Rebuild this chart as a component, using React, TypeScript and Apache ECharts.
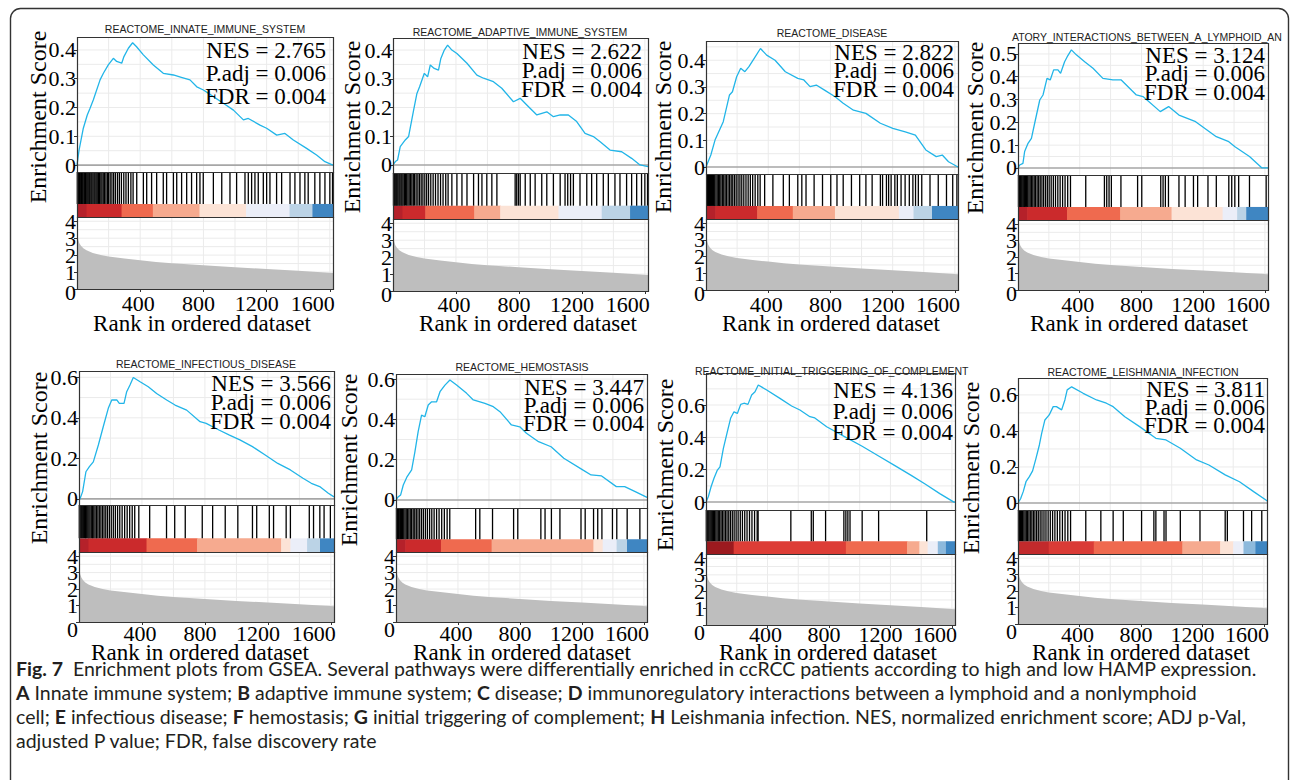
import { useEffect, useRef } from "react";
import * as echarts from "echarts";

// ---------------- data ----------------
const RANK_MAX = 1620;
const xTickValues = [400, 800, 1200, 1600];
const gridRanks = [200, 400, 600, 800, 1000, 1200, 1400, 1600];
const metricTicksEven = [0, 2, 4];
const metricTicksOdd = [1, 3];
const metricGrid = [0.5, 1, 1.5, 2, 2.5, 3, 3.5, 4];
const esTicks4 = [0, 0.1, 0.2, 0.3, 0.4];
const esTicks5 = [0, 0.1, 0.2, 0.3, 0.4, 0.5];
const esTicks6 = [0, 0.2, 0.4, 0.6];

const titles = [
  "REACTOME_INNATE_IMMUNE_SYSTEM",
  "REACTOME_ADAPTIVE_IMMUNE_SYSTEM",
  "REACTOME_DISEASE",
  "ATORY_INTERACTIONS_BETWEEN_A_LYMPHOID_AN",
  "REACTOME_INFECTIOUS_DISEASE",
  "REACTOME_HEMOSTASIS",
  "REACTOME_INITIAL_TRIGGERING_OF_COMPLEMENT",
  "REACTOME_LEISHMANIA_INFECTION",
];
const nesValues = ["2.765", "2.622", "2.822", "3.124", "3.566", "3.447", "4.136", "3.811"];
const padjValues = ["0.006", "0.006", "0.006", "0.006", "0.006", "0.006", "0.006", "0.006"];
const fdrValues = ["0.004", "0.004", "0.004", "0.004", "0.004", "0.004", "0.004", "0.004"];

// ranked list metric (shared by all panels)
const rankedMetric = [
  [0, 3.6], [3, 3.2], [8, 2.9], [15, 2.7], [25, 2.55], [40, 2.4], [60, 2.28], [100, 2.12],
  [150, 2.0], [200, 1.92], [300, 1.8], [400, 1.7], [500, 1.6], [600, 1.52], [800, 1.4],
  [1000, 1.28], [1200, 1.18], [1400, 1.08], [1620, 0.95],
];

// running enrichment scores
const esInnate = [[0,0],[13,0.052],[40,0.128],[65,0.174],[82,0.197],[103,0.226],[146,0.296],[167,0.319],[198,0.348],[230,0.371],[251,0.36],[283,0.354],[297,0.377],[325,0.406],[352,0.425],[377,0.411],[420,0.383],[483,0.348],[546,0.319],[610,0.313],[660,0.305],[715,0.296],[758,0.272],[800,0.261],[863,0.238],[926,0.215],[990,0.191],[1053,0.157],[1084,0.162],[1158,0.139],[1200,0.128],[1264,0.104],[1316,0.110],[1369,0.087],[1453,0.058],[1516,0.035],[1569,0.012],[1620,0]];
const esAdaptive = [[0,0],[15,0.012],[29,0.017],[46,0.064],[78,0.087],[99,0.099],[131,0.191],[152,0.249],[169,0.272],[199,0.319],[220,0.307],[237,0.348],[262,0.336],[289,0.330],[304,0.371],[326,0.4],[347,0.417],[374,0.4],[406,0.388],[470,0.354],[533,0.313],[575,0.302],[638,0.290],[691,0.267],[765,0.220],[808,0.232],[850,0.209],[914,0.174],[977,0.185],[1019,0.168],[1062,0.174],[1114,0.174],[1167,0.151],[1220,0.110],[1273,0.099],[1316,0.081],[1379,0.052],[1453,0.046],[1516,0.023],[1569,0],[1620,-0.006]];
const esDisease = [[0,0],[31,0.045],[58,0.101],[111,0.170],[151,0.270],[170,0.282],[197,0.338],[223,0.37],[250,0.357],[276,0.376],[310,0.407],[350,0.444],[390,0.419],[444,0.40],[510,0.357],[590,0.332],[629,0.326],[669,0.301],[709,0.307],[762,0.288],[830,0.263],[882,0.239],[948,0.213],[1028,0.201],[1121,0.164],[1201,0.145],[1281,0.132],[1346,0.120],[1413,0.064],[1480,0.039],[1519,0.045],[1559,0.02],[1620,0]];
const esLymphoid = [[0,0],[11,0.013],[32,0.02],[43,0.072],[65,0.108],[87,0.130],[108,0.196],[141,0.298],[162,0.32],[188,0.393],[209,0.386],[231,0.430],[259,0.430],[276,0.415],[302,0.466],[319,0.488],[346,0.518],[378,0.496],[432,0.466],[486,0.437],[550,0.393],[615,0.386],[669,0.386],[767,0.32],[810,0.313],[922,0.247],[976,0.269],[1043,0.232],[1151,0.203],[1285,0.137],[1366,0.115],[1406,0.093],[1500,0.050],[1581,0],[1620,0]];
const esInfectious = [[0,0],[6,0],[23,0.036],[44,0.134],[66,0.159],[91,0.183],[123,0.266],[154,0.356],[186,0.447],[208,0.488],[240,0.488],[256,0.471],[286,0.471],[303,0.529],[324,0.562],[345,0.599],[388,0.578],[440,0.553],[493,0.520],[557,0.488],[610,0.463],[684,0.438],[769,0.381],[808,0.373],[889,0.340],[956,0.315],[1022,0.291],[1102,0.258],[1183,0.217],[1263,0.175],[1343,0.143],[1423,0.102],[1476,0.077],[1529,0.061],[1584,0.028],[1620,0.01]];
const esHemostasis = [[0,0],[15,0.016],[30,0.025],[47,0.074],[72,0.116],[101,0.149],[122,0.239],[143,0.339],[165,0.421],[186,0.413],[208,0.471],[230,0.487],[262,0.487],[284,0.537],[316,0.570],[348,0.595],[391,0.570],[456,0.529],[499,0.496],[542,0.487],[574,0.479],[628,0.463],[671,0.438],[745,0.372],[799,0.363],[842,0.331],[920,0.289],[1001,0.264],[1083,0.207],[1205,0.149],[1259,0.124],[1327,0.119],[1422,0.066],[1476,0.066],[1544,0.041],[1620,0.013]];
const esComplement = [[0,0],[15,0.033],[33,0.095],[52,0.147],[74,0.198],[91,0.218],[113,0.332],[139,0.435],[160,0.518],[182,0.558],[204,0.548],[226,0.604],[247,0.611],[273,0.604],[297,0.662],[319,0.682],[340,0.724],[395,0.693],[481,0.641],[557,0.594],[611,0.569],[676,0.528],[708,0.52],[785,0.466],[910,0.40],[1016,0.345],[1123,0.285],[1229,0.225],[1335,0.165],[1428,0.11],[1521,0.052],[1613,0],[1620,0]];
const esLeishmania = [[0,0],[18,0.026],[34,0.063],[52,0.118],[74,0.146],[95,0.178],[117,0.248],[139,0.322],[154,0.387],[175,0.461],[203,0.489],[229,0.535],[250,0.535],[284,0.517],[305,0.572],[320,0.628],[349,0.645],[424,0.609],[511,0.572],[575,0.554],[619,0.535],[695,0.479],[791,0.424],[897,0.359],[963,0.35],[1056,0.304],[1162,0.239],[1242,0.211],[1348,0.156],[1441,0.118],[1533,0.063],[1613,0.017],[1620,0.01]];

// gene-set hit positions (ranks)
const hitsInnate = [2,6,11,15,19,24,29,33,38,44,49,53,58,64,70,76,81,88,94,101,108,114,121,128,136,143,151,158,166,174,183,192,200,210,221,232,243,256,268,281,296,310,325,341,355,378,420,441,472,504,546,567,610,631,662,694,725,757,778,799,863,916,968,1010,1063,1084,1105,1126,1147,1179,1200,1221,1263,1295,1348,1379,1411,1442,1463,1505,1537,1569,1600,1617];
const hitsAdaptive = [3,8,14,20,25,31,38,44,51,57,64,72,79,87,95,103,112,120,129,137,147,158,168,179,190,202,214,226,240,255,270,286,302,318,335,350,374,406,438,470,512,543,565,596,628,660,776,786,797,808,840,872,903,945,977,1019,1062,1093,1110,1128,1146,1188,1231,1262,1294,1336,1368,1410,1442,1484,1516,1548,1579,1600,1617];
const hitsDisease = [4,10,16,22,28,35,42,49,56,64,72,80,88,96,105,114,123,132,142,152,162,172,183,194,206,218,230,243,257,271,285,300,316,333,348,377,430,497,536,590,616,643,695,749,802,842,882,935,988,1028,1068,1121,1135,1160,1174,1190,1214,1230,1254,1280,1307,1330,1347,1365,1387,1440,1493,1546,1586,1613];
const hitsLymphoid = [3,9,15,21,27,34,41,48,56,63,71,79,88,96,105,114,124,134,144,155,166,178,190,202,215,229,243,258,273,289,305,322,340,439,560,575,590,605,667,775,802,925,940,955,975,1043,1083,1137,1164,1231,1285,1366,1385,1405,1430,1500,1608];
const hitsInfectious = [2,7,13,18,24,30,36,42,49,56,63,70,78,86,94,102,111,120,129,139,149,159,170,181,193,205,218,231,245,259,274,290,306,322,338,354,380,449,556,608,675,783,849,929,1009,1102,1129,1209,1236,1316,1343,1463,1490,1530,1557,1597];
const hitsHemostasis = [3,9,15,21,28,35,42,50,58,66,74,83,92,101,111,121,131,142,153,165,177,190,203,217,231,246,262,278,295,312,330,347,514,541,623,759,786,935,962,1003,1058,1194,1221,1275,1302,1329,1397,1425,1492,1574];
const hitsComplement = [2,8,14,20,27,34,41,48,56,64,72,80,89,98,107,117,127,137,148,159,171,183,196,209,223,237,252,267,283,299,316,333,339,552,685,698,778,897,910,923,937,1016,1123,1436];
const hitsLeishmania = [3,9,16,23,30,38,46,54,62,71,80,90,100,110,121,132,144,156,169,182,196,210,225,240,256,272,289,306,324,342,441,539,619,685,804,884,897,950,963,1056,1184,1348,1362,1467,1520,1586];

// colour bar segments [startRank, endRank, colour]
const segInnate = [[0,60,"#B5212A"],[60,282,"#CB2A2C"],[282,480,"#EF6A4F"],[480,775,"#F6AA8F"],[775,1070,"#FCE3D6"],[1070,1345,"#EBEEF8"],[1345,1490,"#BBD3E6"],[1490,1620,"#3F86C2"]];
const segAdaptive = [[0,60,"#B5212A"],[60,205,"#CB2A2C"],[205,516,"#EF6A4F"],[516,681,"#F6AA8F"],[681,1051,"#FCE3D6"],[1051,1326,"#EBEEF8"],[1326,1506,"#BBD3E6"],[1506,1620,"#3F86C2"]];
const segDisease = [[0,60,"#B5212A"],[60,329,"#CB2A2C"],[329,558,"#EF6A4F"],[558,829,"#F6AA8F"],[829,1240,"#FCE3D6"],[1240,1334,"#EBEEF8"],[1334,1453,"#BBD3E6"],[1453,1620,"#3F86C2"]];
const segLymphoid = [[0,60,"#B5212A"],[60,318,"#CB2A2C"],[318,662,"#EF6A4F"],[662,995,"#F6AA8F"],[995,1326,"#FCE3D6"],[1326,1420,"#EBEEF8"],[1420,1479,"#BBD3E6"],[1479,1620,"#3F86C2"]];
const segInfectious = [[0,60,"#B5212A"],[60,429,"#CB2A2C"],[429,750,"#EF6A4F"],[750,1284,"#F6AA8F"],[1284,1343,"#FCE3D6"],[1343,1449,"#EBEEF8"],[1449,1531,"#BBD3E6"],[1531,1620,"#3F86C2"]];
const segHemostasis = [[0,60,"#B5212A"],[60,290,"#CB2A2C"],[290,617,"#EF6A4F"],[617,1274,"#F6AA8F"],[1274,1334,"#FCE3D6"],[1334,1424,"#EBEEF8"],[1424,1491,"#BBD3E6"],[1491,1620,"#3F86C2"]];
const segComplement = [[0,180,"#9C1A1F"],[180,910,"#DD3D36"],[910,1308,"#EF6A4F"],[1308,1388,"#F6AA8F"],[1388,1442,"#FCE3D6"],[1442,1508,"#EBEEF8"],[1508,1561,"#8DB9DC"],[1561,1620,"#3F86C2"]];
const segLeishmania = [[0,200,"#C22A2C"],[200,493,"#DA3B36"],[493,1069,"#EF6A4F"],[1069,1315,"#F6AA8F"],[1315,1400,"#FCE3D6"],[1400,1467,"#EBEEF8"],[1467,1545,"#8DB9DC"],[1545,1620,"#3F86C2"]];

const esCurves = [esInnate, esAdaptive, esDisease, esLymphoid, esInfectious, esHemostasis, esComplement, esLeishmania];
const hitLists = [hitsInnate, hitsAdaptive, hitsDisease, hitsLymphoid, hitsInfectious, hitsHemostasis, hitsComplement, hitsLeishmania];
const segLists = [segInnate, segAdaptive, segDisease, segLymphoid, segInfectious, segHemostasis, segComplement, segLeishmania];
const esTickLists = [esTicks4, esTicks4, esTicks4, esTicks5, esTicks6, esTicks6, esTicks6, esTicks6];

const captionLines = [
  "{b|Fig. 7}  Enrichment plots from GSEA. Several pathways were differentially enriched in ccRCC patients according to high and low HAMP expression.",
  "{b|A} Innate immune system; {b|B} adaptive immune system; {b|C} disease; {b|D} immunoregulatory interactions between a lymphoid and a nonlymphoid",
  "cell; {b|E} infectious disease; {b|F} hemostasis; {b|G} initial triggering of complement; {b|H} Leishmania infection. NES, normalized enrichment score; ADJ p-Val,",
  "adjusted P value; FDR, false discovery rate",
];

// ---------------- layout (pixels) ----------------
const layouts = [
  { left: 77, right: 333, top: 37, esB: 172, bcB: 217, bot: 289, yMin: -0.024, yMax: 0.445, tx: 205, ty: 29, ta: "center", sx: 326, sy: 50, sg: 23, nx: 38, ny: 117, rx: 202, ry: 323, lm: 3 },
  { left: 393, right: 648, top: 38, esB: 173, bcB: 219, bot: 291, yMin: -0.028, yMax: 0.442, tx: 520, ty: 32, ta: "center", sx: 642, sy: 51, sg: 19, nx: 352, ny: 127, rx: 528, ry: 323, lm: 2 },
  { left: 706, right: 958, top: 41, esB: 174, bcB: 219, bot: 290, yMin: -0.026, yMax: 0.472, tx: 832, ty: 33, ta: "center", sx: 954, sy: 52, sg: 18.5, nx: 663, ny: 127, rx: 831, ry: 323, lm: 3 },
  { left: 1018, right: 1268, top: 43, esB: 175, bcB: 220, bot: 290, yMin: -0.031, yMax: 0.548, tx: 1012, ty: 37, ta: "left", sx: 1265, sy: 55, sg: 18.5, nx: 975, ny: 128, rx: 1139, ry: 323, lm: 3 },
  { left: 79, right: 334, top: 371, esB: 505, bcB: 552, bot: 622, yMin: -0.03, yMax: 0.631, tx: 206, ty: 364, ta: "center", sx: 331, sy: 383, sg: 19, nx: 39, ny: 458, rx: 200, ry: 652, lm: 0 },
  { left: 396, right: 647, top: 374, esB: 508, bcB: 552, bot: 622, yMin: -0.04, yMax: 0.625, tx: 522, ty: 367, ta: "center", sx: 644, sy: 387, sg: 18, nx: 349, ny: 460, rx: 522, ry: 652, lm: 0 },
  { left: 706, right: 955, top: 373, esB: 510, bcB: 554, bot: 625, yMin: -0.049, yMax: 0.798, tx: 695, ty: 371, ta: "left", sx: 953, sy: 390, sg: 21, nx: 665, ny: 465, rx: 828, ry: 652, lm: -2 },
  { left: 1018, right: 1267, top: 378, esB: 510, bcB: 554, bot: 624, yMin: -0.039, yMax: 0.694, tx: 1143, ty: 372, ta: "center", sx: 1265, sy: 389, sg: 18, nx: 971, ny: 468, rx: 1141, ry: 652, lm: -1 },
];

const SERIF = "Liberation Serif";
const SANS = "Liberation Sans";
const CB = 0.29; // colour-bar fraction of barcode panel
const LINE_BLUE = "#22B5E8";
const GRID_COL = "#EBEBEB";
const CAPTION_Y = [668, 692, 716, 740];
const METRIC_MAX = 4.25;

function txt(x: number, y: number, text: string, size: number, family: string, align: string, extra: any = {}) {
  return {
    type: "text",
    x,
    y,
    z: 120,
    silent: true,
    ...extra,
    style: {
      text,
      x: 0,
      y: 0,
      fontSize: size,
      fontFamily: family,
      fill: "#000",
      align,
      textAlign: align,
      verticalAlign: "middle",
      textVerticalAlign: "middle",
      ...(extra.style || {}),
    },
  };
}

function hLines(xi: number, yi: number, values: number[], color: string, width: number, z: number) {
  return {
    type: "custom",
    xAxisIndex: xi,
    yAxisIndex: yi,
    z,
    silent: true,
    data: values.map((v) => [0, v]),
    renderItem: (_p: any, api: any) => {
      const a = api.coord([0, api.value(1)]);
      const b = api.coord([RANK_MAX, api.value(1)]);
      return { type: "line", shape: { x1: a[0], y1: a[1], x2: b[0], y2: b[1] }, style: { stroke: color, lineWidth: width } };
    },
  };
}

function vLines(xi: number, yi: number, ranks: number[], y0: number, y1: number, color: string, width: number, z: number) {
  return {
    type: "custom",
    xAxisIndex: xi,
    yAxisIndex: yi,
    z,
    silent: true,
    data: ranks.map((r) => [r, y1]),
    renderItem: (_p: any, api: any) => {
      const a = api.coord([api.value(0), y0]);
      const b = api.coord([api.value(0), y1]);
      return { type: "line", shape: { x1: a[0], y1: a[1], x2: a[0], y2: b[1] }, style: { stroke: color, lineWidth: width } };
    },
  };
}

function buildOption() {
  const grid: any[] = [];
  const xAxis: any[] = [];
  const yAxis: any[] = [];
  const series: any[] = [];
  const elements: any[] = [];

  const hidden = { show: false };
  const labelFont = { fontFamily: SERIF, fontSize: 22, color: "#000" };
  const forceShow = { showMinLabel: true, showMaxLabel: true, hideOverlap: false };

  layouts.forEach((L, i) => {
    const w = L.right - L.left;
    const g = grid.length;
    grid.push({ left: L.left, top: L.top, width: w, height: L.esB - L.top, show: false });
    grid.push({ left: L.left, top: L.esB, width: w, height: L.bcB - L.esB, show: false });
    grid.push({ left: L.left, top: L.bcB, width: w, height: L.bot - L.bcB, show: false });

    // x axes (index == grid index)
    for (let k = 0; k < 3; k++) {
      const isBottom = k === 2;
      xAxis.push({
        type: "value",
        gridIndex: g + k,
        min: 0,
        max: RANK_MAX,
        axisLine: hidden,
        splitLine: hidden,
        axisTick: isBottom ? { show: true, customValues: xTickValues, length: 3, lineStyle: { color: "#333" } } : hidden,
        axisLabel: isBottom
          ? {
              show: true,
              customValues: xTickValues,
              margin: L.lm,
              ...forceShow,
              ...labelFont,
              formatter: (v: number) => `{s${v}|${v}}`,
              rich: {
                s400: { ...labelFont, padding: [0, 4, 0, 0] },
                s800: { ...labelFont, padding: [0, 10, 0, 0] },
                s1200: { ...labelFont, padding: [0, 20, 0, 0] },
                s1600: { ...labelFont, padding: [0, 34, 0, 0] },
              },
            }
          : hidden,
      });
    }

    // y axes
    const ticks = esTickLists[i];
    const yEs = yAxis.length;
    yAxis.push({
      type: "value",
      gridIndex: g,
      min: L.yMin,
      max: L.yMax,
      axisLine: hidden,
      splitLine: hidden,
      axisTick: { show: true, customValues: ticks, length: 3, lineStyle: { color: "#333" } },
      axisLabel: { show: true, customValues: ticks, margin: 1, ...forceShow, ...labelFont, formatter: (v: number) => String(v) },
    });
    const yBc = yAxis.length;
    yAxis.push({ type: "value", gridIndex: g + 1, min: 0, max: 1, axisLine: hidden, splitLine: hidden, axisTick: hidden, axisLabel: hidden });
    const yMet = yAxis.length;
    yAxis.push({
      type: "value",
      gridIndex: g + 2,
      min: 0,
      max: METRIC_MAX,
      axisLine: hidden,
      splitLine: hidden,
      axisTick: { show: true, customValues: metricTicksEven, length: 3, lineStyle: { color: "#333" } },
      axisLabel: {
        show: true,
        customValues: metricTicksEven,
        margin: 1,
        ...forceShow,
        ...labelFont,
        formatter: (v: number) => (v === 0 ? "{z|0}" : `{n|${v}}`),
        rich: { z: { ...labelFont, padding: [i < 4 ? 6 : 14, 0, 0, 0] }, n: { ...labelFont } },
      },
    });
    yAxis.push({
      type: "value",
      gridIndex: g + 2,
      position: "left",
      offset: 0,
      min: 0,
      max: METRIC_MAX,
      axisLine: hidden,
      splitLine: hidden,
      axisTick: { show: true, customValues: metricTicksOdd, length: 3, lineStyle: { color: "#333" } },
      axisLabel: { show: true, customValues: metricTicksOdd, margin: 1, ...forceShow, ...labelFont, formatter: (v: number) => String(v) },
    });

    // ES panel gridlines
    const step = ticks[1] / 2;
    const hvals: number[] = [];
    for (let v = step; v < L.yMax; v += step) hvals.push(Math.round(v * 1000) / 1000);
    series.push(hLines(g, yEs, hvals, GRID_COL, 1, 1));
    series.push(vLines(g, yEs, gridRanks, L.yMin, L.yMax, GRID_COL, 1, 1));
    series.push(hLines(g, yEs, [0], "#A6A6A6", 1.6, 2));
    series.push({
      type: "line",
      xAxisIndex: g,
      yAxisIndex: yEs,
      data: esCurves[i],
      symbol: "none",
      silent: true,
      z: 5,
      lineStyle: { color: LINE_BLUE, width: 1.3 },
      itemStyle: { color: LINE_BLUE },
    });

    // barcode + colour bar
    const segs = segLists[i];
    series.push({
      type: "custom",
      xAxisIndex: g + 1,
      yAxisIndex: yBc,
      z: 3,
      silent: true,
      data: segs.map((s) => [s[0], s[1]]),
      renderItem: (p: any, api: any) => {
        const s = segs[p.dataIndex];
        const a = api.coord([s[0] as number, 0]);
        const b = api.coord([s[1] as number, CB]);
        return { type: "rect", shape: { x: a[0], y: b[1], width: b[0] - a[0] + 0.6, height: a[1] - b[1] }, style: { fill: s[2] as string } };
      },
    });
    series.push(vLines(g + 1, yBc, hitLists[i], CB, 1, "#000", 1.3, 4));

    // ranked list metric panel
    series.push(hLines(g + 2, yMet, metricGrid, GRID_COL, 1, 1));
    series.push(vLines(g + 2, yMet, gridRanks, 0, METRIC_MAX, GRID_COL, 1, 1));
    series.push({
      type: "line",
      xAxisIndex: g + 2,
      yAxisIndex: yMet,
      data: rankedMetric,
      symbol: "none",
      silent: true,
      z: 3,
      lineStyle: { width: 0, color: "#BEBEBE" },
      itemStyle: { color: "#BEBEBE" },
      areaStyle: { color: "#BEBEBE", opacity: 1 },
    });

    // panel borders
    const box = (y0: number, y1: number) => ({
      type: "rect",
      z: 110,
      silent: true,
      shape: { x: L.left + 0.5, y: y0 + 0.5, width: w, height: y1 - y0 },
      style: { fill: "none", stroke: "#333", lineWidth: 1.2 },
    });
    elements.push(box(L.top, L.esB), box(L.esB, L.bcB), box(L.bcB, L.bot));

    // texts
    elements.push(txt(L.tx, L.ty, titles[i], 10.5, SANS, L.ta, { style: { fill: "#222" } }));
    elements.push(txt(L.sx, L.sy, `NES = ${nesValues[i]}`, 23, SERIF, "right"));
    elements.push(txt(L.sx, L.sy + L.sg, `P.adj = ${padjValues[i]}`, 23, SERIF, "right"));
    elements.push(txt(L.sx, L.sy + 2 * L.sg, `FDR = ${fdrValues[i]}`, 23, SERIF, "right"));
    elements.push(txt(L.nx, L.ny, "Enrichment Score", 24, SERIF, "center", { rotation: Math.PI / 2 }));
    elements.push(txt(L.rx, L.ry, "Rank in ordered dataset", 23, SERIF, "center"));
  });

  // outer rounded frame
  elements.push({
    type: "rect",
    z: 130,
    silent: true,
    shape: { x: 10.5, y: 8.5, width: 1278, height: 800, r: 10 },
    style: { fill: "none", stroke: "#333", lineWidth: 1.4 },
  });

  // caption
  captionLines.forEach((line, k) => {
    elements.push({
      type: "text",
      x: 16,
      y: CAPTION_Y[k],
      z: 120,
      silent: true,
      style: {
        text: line,
        x: 0,
        y: 0,
        fontSize: 19.5,
        fontFamily: "Lato",
        fill: "#231F20",
        align: "left",
        textAlign: "left",
        verticalAlign: "middle",
        textVerticalAlign: "middle",
        rich: { b: { fontSize: 19.5, fontFamily: "Lato", fontWeight: "bold", fill: "#231F20" } },
      },
    });
  });

  return {
    animation: false,
    backgroundColor: "#ffffff",
    grid,
    xAxis,
    yAxis,
    series,
    graphic: { elements },
  };
}

export default function App() {
  const ref = useRef<HTMLDivElement>(null);
  useEffect(() => {
    if (!ref.current) return;
    const chart = echarts.init(ref.current, undefined, { renderer: "svg" });
    chart.setOption(buildOption() as any);
    return () => chart.dispose();
  }, []);
  return <div ref={ref} style={{ position: "absolute", left: 0, top: 0, width: 1290, height: 780, background: "#fff" }} />;
}
